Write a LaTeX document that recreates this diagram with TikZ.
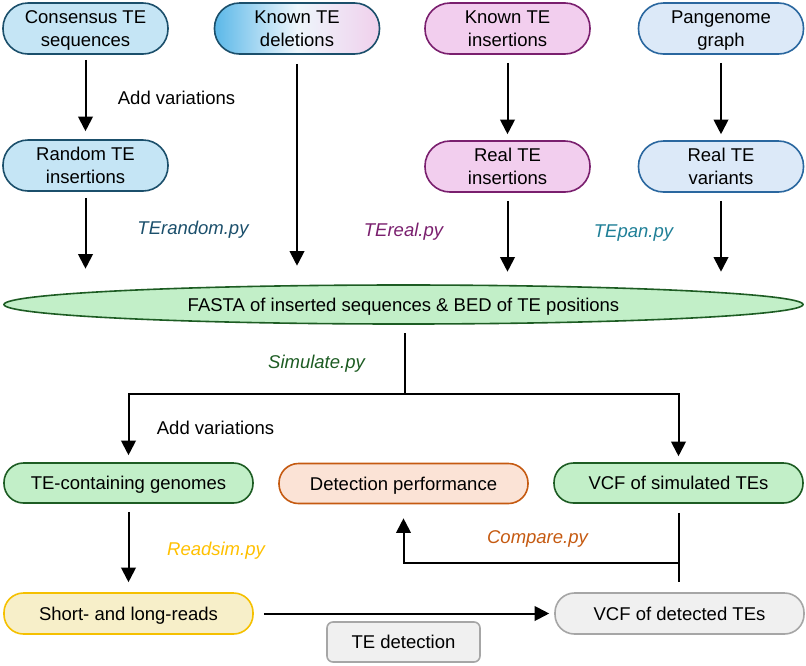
\documentclass[tikz,border=0pt]{standalone}
\usepackage{fontspec}
\setmainfont{Liberation Sans}
\usetikzlibrary{shapes.geometric,arrows.meta,calc}
\definecolor{blueF}{HTML}{C5E5F5}
\definecolor{blueD}{HTML}{1B4F6B}
\definecolor{gradL}{HTML}{5BB8E8}
\definecolor{gradM}{HTML}{EEF6FC}
\definecolor{gradR}{HTML}{F0D0EC}
\definecolor{pinkF}{HTML}{F2CEEE}
\definecolor{pinkD}{HTML}{7A1F6E}
\definecolor{paleF}{HTML}{DCE9F8}
\definecolor{paleD}{HTML}{2A679F}
\definecolor{greenF}{HTML}{C2EFC8}
\definecolor{greenD}{HTML}{1D5C23}
\definecolor{orangeF}{HTML}{FBE3D6}
\definecolor{orangeD}{HTML}{C55A11}
\definecolor{yellowF}{HTML}{F7EFC9}
\definecolor{yellowD}{HTML}{F5C000}
\definecolor{greyF}{HTML}{F0F0F0}
\definecolor{greyD}{HTML}{A6A6A6}
\definecolor{tealT}{HTML}{1F7F97}
\definecolor{goldT}{HTML}{FFC000}
\tikzset{
  txt/.style={font=\fontsize{18.5}{23}\selectfont, text depth=0pt},
  pill/.style={txt, draw, line width=1.6pt, inner sep=0pt, align=center,
    minimum width=165pt, minimum height=51pt, rounded corners=25pt},
  wide/.style={txt, draw, line width=1.6pt, inner sep=0pt, align=center,
    minimum width=249pt, minimum height=40pt, rounded corners=19.5pt},
  lbl/.style={txt, inner sep=0pt},
  ilbl/.style={txt, inner sep=0pt, font=\fontsize{18.5}{23}\selectfont\itshape},
  arr/.style={line width=2pt, -{Triangle[width=14.5pt,length=14.5pt]}},
  ln/.style={line width=2pt},
}
\begin{document}
\begin{tikzpicture}[x=1pt,y=-1pt]
\path[use as bounding box] (0,0) rectangle (806,665);
% top row
\node[pill, fill=blueF, draw=blueD] (cons) at (85.5,28.5) {Consensus TE\\sequences};
\node[pill, draw=blueD, left color=gradL, right color=gradR, middle color=gradM] (del) at (297,28.5) {Known TE\\deletions};
\node[pill, fill=pinkF, draw=pinkD] (kins) at (507.5,28.5) {Known TE\\insertions};
\node[pill, fill=paleF, draw=paleD] (pan) at (721,28.5) {Pangenome\\graph};
% second row
\node[pill, fill=blueF, draw=blueD] (rand) at (85.5,165.5) {Random TE\\insertions};
\node[pill, fill=pinkF, draw=pinkD] (rins) at (507.5,166.5) {Real TE\\insertions};
\node[pill, fill=paleF, draw=paleD] (var) at (721,166.5) {Real TE\\variants};
% fasta
\node[ellipse, txt, draw=greenD, fill=greenF, line width=1.6pt, inner sep=0pt,
  minimum width=799pt, minimum height=39pt] (fasta) at (403.5,304.5)
  {FASTA of inserted sequences \& BED of TE positions};
% third row
\node[wide, fill=greenF, draw=greenD] (gen) at (128.5,483) {TE-containing genomes};
\node[wide, fill=orangeF, draw=orangeD] (perf) at (403.5,483.5) {Detection performance};
\node[wide, fill=greenF, draw=greenD] (vsim) at (678.5,483) {VCF of simulated TEs};
% fourth row
\node[wide, fill=yellowF, draw=yellowD, minimum height=41pt] (short) at (128.5,613.5) {Short- and long-reads};
\node[wide, fill=greyF, draw=greyD, minimum height=41pt] (vdet) at (679.5,613.5) {VCF of detected TEs};
\node[txt, draw=greyD, fill=greyF, line width=1.6pt, rounded corners=6pt,
  minimum width=153pt, minimum height=40pt, inner sep=0pt] (det) at (403.5,642) {TE detection};
% labels
\node[lbl] (av1) at (176.5,97.5) {Add variations};
\node[ilbl, text=blueD] (l1) at (193,228) {TErandom.py};
\node[ilbl, text=pinkD] (l2) at (403.5,230) {TEreal.py};
\node[ilbl, text=tealT] (l3) at (633.5,231) {TEpan.py};
\node[ilbl, text=greenD] (l4) at (316.5,362) {Simulate.py};
\node[lbl] (av2) at (215.5,428) {Add variations};
\node[ilbl, text=goldT] (l5) at (216,549) {Readsim.py};
\node[ilbl, text=orangeD] (l6) at (537.5,537) {Compare.py};
% coordinates
\coordinate (j1) at (405,394);
\coordinate (j2) at (679,563);
% connectors
\draw[arr, shorten <=5pt, shorten >=8pt] (cons.south) -- (rand.north);
\draw[arr, shorten <=6pt, shorten >=15.5pt] (rand.south) -- (rand.south |- fasta.north);
\draw[arr, shorten <=9pt, shorten >=18.5pt] (del.south) -- (del.south |- fasta.north);
\draw[arr, shorten <=8pt, shorten >=6pt] (kins.south) -- (rins.north);
\draw[arr, shorten <=8pt, shorten >=12.5pt] (rins.south) -- (rins.south |- fasta.north);
\draw[arr, shorten <=8pt, shorten >=6pt] (pan.south) -- (var.north);
\draw[arr, shorten <=8pt, shorten >=12.5pt] (var.south) -- (var.south |- fasta.north);
\draw[ln, shorten <=8.5pt] (fasta.south -| j1) -- (j1);
\draw[arr, shorten >=7pt] (j1) -| (gen.north);
\draw[arr, shorten >=6pt] (j1) -| (vsim.north);
\draw[arr, shorten <=8pt, shorten >=10pt] (gen.south) -- (short.north);
\draw[arr, shorten <=10pt, shorten >=5pt] (short.east) -- (vdet.west);
\draw[ln, shorten <=9pt, shorten >=10pt] (vsim.south -| j2) -- (vdet.north -| j2);
\draw[arr, shorten >=14pt] (j2) -| (perf.south);
\end{tikzpicture}
\end{document}
